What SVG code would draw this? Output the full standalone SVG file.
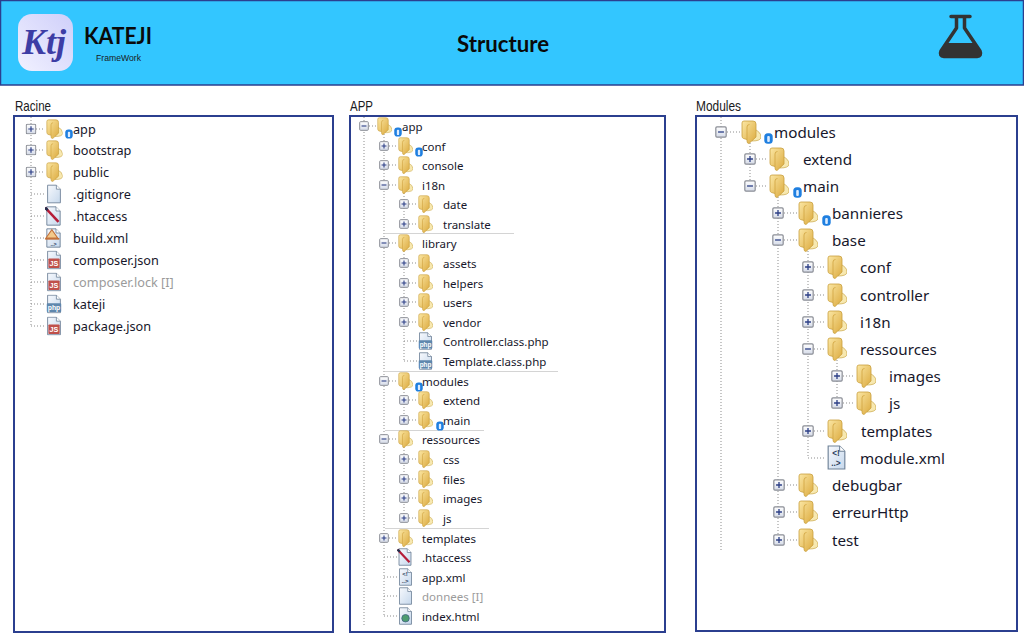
<svg xmlns="http://www.w3.org/2000/svg" width="1024" height="640" viewBox="0 0 1024 640">
<style>
.panel{fill:#fff;stroke:#2b3f8f;stroke-width:2}
.cap{font:14.500px "Liberation Sans",Arial,sans-serif;fill:#1a1a22}
.t1,.t2,.t3{font-family:"Noto Sans","DejaVu Sans",sans-serif;fill:#17172b;transform:translateY(.7px)}
.t1{font-size:12.700px}.t2{font-size:11.500px}.t3{font-size:15.200px}
.ign{fill:#9b9b9b}
.dot{fill:none;stroke:#8d8d8d;stroke-width:1;stroke-dasharray:1 2}
.sep{stroke:#d4d4d4;stroke-width:1;fill:none}
.hd{font-family:Lato,"Open Sans",sans-serif;font-weight:700;fill:#0a0a0a}
.ic{font-family:"Liberation Sans",sans-serif;font-weight:700;text-anchor:middle}
</style>
<defs>
<linearGradient id="gf" x1="0" y1="0" x2="1" y2="1"><stop offset="0" stop-color="#fbe7a4"/><stop offset="1" stop-color="#dcaa3e"/></linearGradient>
<linearGradient id="gd" x1="0" y1="0" x2="1" y2="1"><stop offset="0" stop-color="#f7f9fd"/><stop offset="1" stop-color="#c6d8ec"/></linearGradient>
<linearGradient id="ge" x1="0" y1="0" x2="0" y2="1"><stop offset="0" stop-color="#fff"/><stop offset="1" stop-color="#d5dbe8"/></linearGradient>
<linearGradient id="gl" x1="1" y1="0" x2="0" y2="1"><stop offset="0" stop-color="#cfcffa"/><stop offset="1" stop-color="#f1f1ff"/></linearGradient>
<symbol id="folder" viewBox="0 0 20 24"><path d="M13 9Q20 12 20 17Q20 21 11 21Z" fill="#f7e8b0" stroke="#cfae55" stroke-width=".8"/><path d="M1 3Q1 1 3 1H12Q15 1 15 4V17L8 23.500Q6 23.500 6 21V19.500L2.500 18.500Q1 18 1 16Z" fill="url(#gf)" stroke="#c99f3e" stroke-width=".8"/><path d="M6 19.500V7Q6 4.500 8.500 4.500" fill="none" stroke="#d0a33f" stroke-width=".8"/></symbol>
<symbol id="doc" viewBox="0 0 20 24"><path d="M2 1H13L18 6V23H2Z" fill="url(#gd)" stroke="#6f8298" stroke-width="1.100"/><path d="M13 1V6H18" fill="#fff" stroke="#6f8298"/></symbol>
<symbol id="ep" viewBox="0 0 11 11"><rect x=".75" y=".75" width="9.500" height="9.500" rx="1" fill="url(#ge)" stroke="#8b8e96" stroke-width="1.100"/><path d="M2.800 5.500H8.200M5.500 2.800V8.200" stroke="#2c3f86" stroke-width="1.200"/></symbol>
<symbol id="em" viewBox="0 0 11 11"><rect x=".75" y=".75" width="9.500" height="9.500" rx="1" fill="url(#ge)" stroke="#8b8e96" stroke-width="1.100"/><path d="M2.800 5.500H8.200" stroke="#2c3f86" stroke-width="1.200"/></symbol>
<symbol id="badge" viewBox="0 0 9 11"><rect x=".3" y=".3" width="8.400" height="10.400" rx="3.500" fill="#1f7fe0"/><rect x="3.200" y="3" width="2.600" height="6" rx="1" fill="#dcecff"/></symbol>
<symbol id="file-js" viewBox="0 0 20 24"><use href="#doc" width="20" height="24"/><rect x="3" y="10" width="14" height="12" rx="1" fill="#c0504a"/><text class="ic" x="10" y="20" font-size="9" fill="#fff">JS</text></symbol>
<symbol id="file-php" viewBox="0 0 20 24"><use href="#doc" width="20" height="24"/><rect x="1" y="11" width="18" height="11" rx="1" fill="#5f87ad"/><text class="ic" x="10" y="19.500" font-size="8.500" fill="#fff">php</text></symbol>
<symbol id="file-xml" viewBox="0 0 20 24"><use href="#doc" width="20" height="24"/><text class="ic" x="9.500" y="11" font-size="8" fill="#2c3f5c">&lt;!</text><text class="ic" x="9.500" y="20" font-size="8" fill="#2c3f5c">..&gt;</text></symbol>
<symbol id="file-ht" viewBox="0 0 20 24"><use href="#doc" width="20" height="24"/><path d="M0 2L16 19" stroke="#b51c38" stroke-width="3"/><path d="M0 2L3 5" stroke="#20304f" stroke-width="3"/></symbol>
<symbol id="file-html" viewBox="0 0 20 24"><use href="#doc" width="20" height="24"/><circle cx="10" cy="15" r="5" fill="#4d9c70" stroke="#3c5f80"/></symbol>
<symbol id="file-ant" viewBox="0 0 20 24"><use href="#doc" width="20" height="24"/><path d="M1 12L8 2L15 12Z" fill="#f3c98a" stroke="#c2703a" stroke-width="1.300"/><path d="M0 13H17" stroke="#c2703a" stroke-width="2"/><text class="ic" x="10" y="21" font-size="6.500" fill="#2c3f5c">..&gt;</text></symbol>
<use id="f1" href="#folder" x="0" y="-10" width="16.700" height="20"/>
<use id="f2" href="#folder" x="0" y="-9" width="15" height="18"/>
<use id="f3" href="#folder" x="0" y="-12" width="20" height="24"/>
<use id="p1" href="#ep" x="-5.500" y="-5.500" width="11" height="11"/>
<use id="m1" href="#em" x="-5.500" y="-5.500" width="11" height="11"/>
<use id="p2" href="#ep" x="-5" y="-5" width="10" height="10"/>
<use id="m2" href="#em" x="-5" y="-5" width="10" height="10"/>
<use id="p3" href="#ep" x="-6" y="-6" width="12" height="12"/>
<use id="m3" href="#em" x="-6" y="-6" width="12" height="12"/>
<use id="b1" href="#badge" x="0" y="0" width="8" height="10"/>
<use id="b3" href="#badge" x="0" y="0" width="9" height="11"/>
</defs>
<rect width="1024" height="640" fill="#fff"/>
<g id="header">
<rect x=".5" y=".5" width="1023" height="84.500" fill="#33c6ff" stroke="#2b3f8f" stroke-width="1.500"/>
<g id="logo"><rect x="18" y="14" width="55" height="57" rx="14" fill="url(#gl)"/><text x="44" y="54" text-anchor="middle" font-family="'Liberation Serif',serif" font-style="italic" font-weight="700" font-size="36" fill="#3d3da5">Ktj</text></g>
<text class="hd" x="84" y="44" font-size="22" textLength="68" lengthAdjust="spacingAndGlyphs">KATEJI</text>
<text x="96" y="61" font-family="'Liberation Sans',sans-serif" font-size="9.500" fill="#1a1a22" textLength="45" lengthAdjust="spacingAndGlyphs">FrameWork</text>
<text class="hd" x="457" y="52" font-size="22" textLength="92" lengthAdjust="spacingAndGlyphs">Structure</text>
<g id="flask"><path d="M951 16.500H970M956.500 17V28L941 51Q939 56 944 56.500H977Q982 56 980 51L964.500 28V17" fill="none" stroke="#333" stroke-width="3.500" stroke-linecap="round" stroke-linejoin="round"/><path d="M946.500 43H974.500L981 52Q982 57 977 57H944Q939 57 940 52Z" fill="#333"/></g>
</g>
<rect class="panel" x="14" y="116" width="319" height="516"/>
<rect class="panel" x="350" y="116" width="315" height="516"/>
<rect class="panel" x="696" y="116" width="321" height="515"/>
<text class="cap" x="15" y="111" textLength="36" lengthAdjust="spacingAndGlyphs">Racine</text>
<text class="cap" x="350" y="111" textLength="23" lengthAdjust="spacingAndGlyphs">APP</text>
<text class="cap" x="696" y="111" textLength="45" lengthAdjust="spacingAndGlyphs">Modules</text>
<g id="connectors">
<path class="dot" d="M31 117V326M36 129H45M36 150H45M36 172H45M31 194H45M31 216H45M31 238H45M31 260H45M31 282H45M31 304H45M31 326H45"/>
<path class="dot" d="M364 117V625M369 126H377M384 134V616M389 146H397M389 165H397M389 185H397M389 243H397M389 381H397M389 439H397M389 538H397M384 557H397M384 577H397M384 596H397M384 616H397M404 193V224M409 204H417M409 224H417M404 251V361M409 263H417M409 283H417M409 302H417M409 322H417M404 341H417M404 361H417M404 389V420M409 400H417M409 420H417M404 447V518M409 459H417M409 479H417M409 498H417M409 518H417"/>
<path class="dot" d="M721 117V552M727 132H740M750 140V186M756 159H768M756 186H768M778 194V540M784 213H797M784 240H797M784 485H797M784 512H797M784 540H797M808 248V458M814 267H826M814 295H826M814 322H826M814 349H826M814 431H826M808 458H826M837 357V403M843 376H855M843 403H855"/>
<path class="sep" d="M385 233.500H514M385 371.500H558M385 430.500H484M385 528.500H489"/>
</g>
<g id="racine">
<g id="r-app"><use href="#p1" x="31" y="129"/><use href="#f1" x="46" y="129"/><use href="#b1" x="65" y="129"/><text class="t1" x="73" y="133">app</text></g>
<g id="r-bootstrap"><use href="#p1" x="31" y="150"/><use href="#f1" x="46" y="150"/><text class="t1" x="73" y="154">bootstrap</text></g>
<g id="r-public"><use href="#p1" x="31" y="172"/><use href="#f1" x="46" y="172"/><text class="t1" x="73" y="176">public</text></g>
<g id="r-gitignore"><use href="#doc" x="46" y="184" width="16" height="20"/><text class="t1" x="73" y="198">.gitignore</text></g>
<g id="r-htaccess"><use href="#file-ht" x="45" y="206" width="17" height="20"/><text class="t1" x="73" y="220">.htaccess</text></g>
<g id="r-build"><use href="#file-ant" x="45" y="228" width="17" height="20"/><text class="t1" x="73" y="242">build.xml</text></g>
<g id="r-composer-json"><use href="#file-js" x="46" y="250" width="16" height="20"/><text class="t1" x="73" y="264">composer.json</text></g>
<g id="r-composer-lock"><use href="#file-js" x="46" y="272" width="16" height="20"/><text class="t1 ign" x="73" y="286">composer.lock [I]</text></g>
<g id="r-kateji"><use href="#file-php" x="46" y="294" width="16" height="20"/><text class="t1" x="73" y="308">kateji</text></g>
<g id="r-package"><use href="#file-js" x="46" y="316" width="16" height="20"/><text class="t1" x="73" y="330">package.json</text></g>
</g>
<g id="app">
<g id="a-app"><use href="#m2" x="364" y="126"/><use href="#f2" x="377" y="126"/><use href="#b1" x="394" y="127"/><text class="t2" x="402" y="130">app</text></g>
<g id="a-conf"><use href="#p2" x="384" y="146"/><use href="#f2" x="398" y="146"/><use href="#b1" x="415" y="147"/><text class="t2" x="422" y="150">conf</text></g>
<g id="a-console"><use href="#p2" x="384" y="165"/><use href="#f2" x="398" y="165"/><text class="t2" x="422" y="169">console</text></g>
<g id="a-i18n"><use href="#m2" x="384" y="185"/><use href="#f2" x="398" y="185"/><text class="t2" x="422" y="189">i18n</text></g>
<g id="a-date"><use href="#p2" x="404" y="204"/><use href="#f2" x="418" y="204"/><text class="t2" x="443" y="208">date</text></g>
<g id="a-translate"><use href="#p2" x="404" y="224"/><use href="#f2" x="418" y="224"/><text class="t2" x="443" y="228">translate</text></g>
<g id="a-library"><use href="#m2" x="384" y="243"/><use href="#f2" x="398" y="243"/><text class="t2" x="422" y="247">library</text></g>
<g id="a-assets"><use href="#p2" x="404" y="263"/><use href="#f2" x="418" y="263"/><text class="t2" x="443" y="267">assets</text></g>
<g id="a-helpers"><use href="#p2" x="404" y="283"/><use href="#f2" x="418" y="283"/><text class="t2" x="443" y="287">helpers</text></g>
<g id="a-users"><use href="#p2" x="404" y="302"/><use href="#f2" x="418" y="302"/><text class="t2" x="443" y="306">users</text></g>
<g id="a-vendor"><use href="#p2" x="404" y="322"/><use href="#f2" x="418" y="322"/><text class="t2" x="443" y="326">vendor</text></g>
<g id="a-controller"><use href="#file-php" x="418" y="332" width="15" height="18"/><text class="t2" x="443" y="345">Controller.class.php</text></g>
<g id="a-template"><use href="#file-php" x="418" y="352" width="15" height="18"/><text class="t2" x="443" y="365">Template.class.php</text></g>
<g id="a-modules"><use href="#m2" x="384" y="381"/><use href="#f2" x="398" y="381"/><use href="#b1" x="415" y="382"/><text class="t2" x="422" y="385">modules</text></g>
<g id="a-extend"><use href="#p2" x="404" y="400"/><use href="#f2" x="418" y="400"/><text class="t2" x="443" y="404">extend</text></g>
<g id="a-main"><use href="#p2" x="404" y="420"/><use href="#f2" x="418" y="420"/><use href="#b1" x="436" y="421"/><text class="t2" x="443" y="424">main</text></g>
<g id="a-ressources"><use href="#m2" x="384" y="439"/><use href="#f2" x="398" y="439"/><text class="t2" x="422" y="443">ressources</text></g>
<g id="a-css"><use href="#p2" x="404" y="459"/><use href="#f2" x="418" y="459"/><text class="t2" x="443" y="463">css</text></g>
<g id="a-files"><use href="#p2" x="404" y="479"/><use href="#f2" x="418" y="479"/><text class="t2" x="443" y="483">files</text></g>
<g id="a-images"><use href="#p2" x="404" y="498"/><use href="#f2" x="418" y="498"/><text class="t2" x="443" y="502">images</text></g>
<g id="a-js"><use href="#p2" x="404" y="518"/><use href="#f2" x="418" y="518"/><text class="t2" x="443" y="522">js</text></g>
<g id="a-templates"><use href="#p2" x="384" y="538"/><use href="#f2" x="398" y="538"/><text class="t2" x="422" y="542">templates</text></g>
<g id="a-htaccess"><use href="#file-ht" x="397" y="548" width="16" height="18"/><text class="t2" x="422" y="561">.htaccess</text></g>
<g id="a-appxml"><use href="#file-xml" x="398" y="568" width="15" height="18"/><text class="t2" x="422" y="581">app.xml</text></g>
<g id="a-donnees"><use href="#doc" x="398" y="587" width="15" height="18"/><text class="t2 ign" x="422" y="600">donnees [I]</text></g>
<g id="a-index"><use href="#file-html" x="398" y="607" width="15" height="18"/><text class="t2" x="422" y="620">index.html</text></g>
</g>
<g id="modules">
<g id="m-modules"><use href="#m3" x="721" y="132"/><use href="#f3" x="741" y="132"/><use href="#b3" x="764" y="133"/><text class="t3" x="774" y="137">modules</text></g>
<g id="m-extend"><use href="#p3" x="750" y="159"/><use href="#f3" x="769" y="159"/><text class="t3" x="803" y="164">extend</text></g>
<g id="m-main"><use href="#m3" x="750" y="186"/><use href="#f3" x="769" y="186"/><use href="#b3" x="793" y="187"/><text class="t3" x="803" y="191">main</text></g>
<g id="m-bannieres"><use href="#p3" x="778" y="213"/><use href="#f3" x="798" y="213"/><use href="#b3" x="822" y="215"/><text class="t3" x="832" y="218">bannieres</text></g>
<g id="m-base"><use href="#m3" x="778" y="240"/><use href="#f3" x="798" y="240"/><text class="t3" x="832" y="245">base</text></g>
<g id="m-conf"><use href="#p3" x="808" y="267"/><use href="#f3" x="827" y="267"/><text class="t3" x="860" y="272">conf</text></g>
<g id="m-controller"><use href="#p3" x="808" y="295"/><use href="#f3" x="827" y="295"/><text class="t3" x="860" y="300">controller</text></g>
<g id="m-i18n"><use href="#p3" x="808" y="322"/><use href="#f3" x="827" y="322"/><text class="t3" x="860" y="327">i18n</text></g>
<g id="m-ressources"><use href="#m3" x="808" y="349"/><use href="#f3" x="827" y="349"/><text class="t3" x="860" y="354">ressources</text></g>
<g id="m-images"><use href="#p3" x="837" y="376"/><use href="#f3" x="856" y="376"/><text class="t3" x="889" y="381">images</text></g>
<g id="m-js"><use href="#p3" x="837" y="403"/><use href="#f3" x="856" y="403"/><text class="t3" x="889" y="408">js</text></g>
<g id="m-templates"><use href="#p3" x="808" y="431"/><use href="#f3" x="827" y="431"/><text class="t3" x="861" y="436">templates</text></g>
<g id="m-modulexml"><use href="#file-xml" x="826" y="445" width="21" height="25"/><text class="t3" x="860" y="463">module.xml</text></g>
<g id="m-debugbar"><use href="#p3" x="779" y="485"/><use href="#f3" x="798" y="485"/><text class="t3" x="832" y="490">debugbar</text></g>
<g id="m-erreurhttp"><use href="#p3" x="779" y="512"/><use href="#f3" x="798" y="512"/><text class="t3" x="832" y="517">erreurHttp</text></g>
<g id="m-test"><use href="#p3" x="779" y="540"/><use href="#f3" x="798" y="540"/><text class="t3" x="832" y="545">test</text></g>
</g>
</svg>
